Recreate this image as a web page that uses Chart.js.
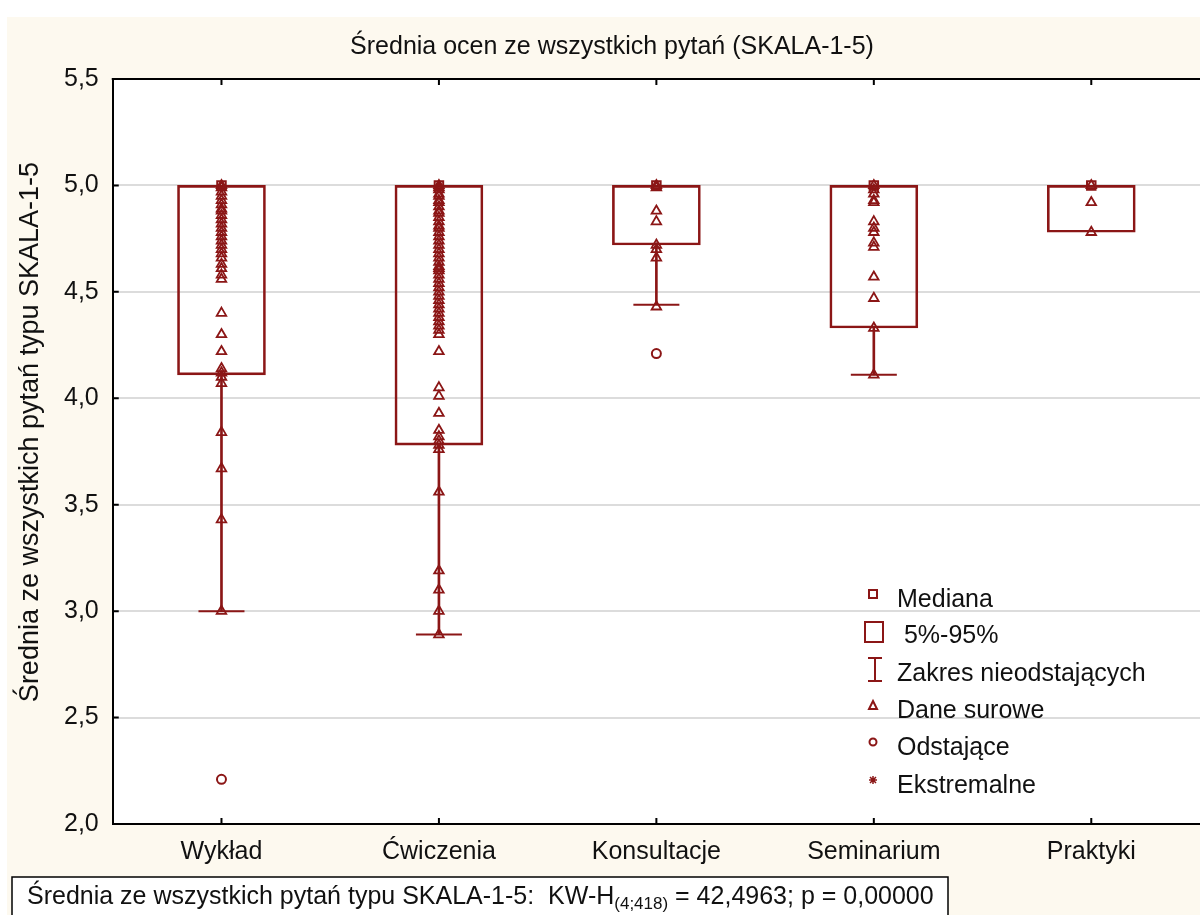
<!DOCTYPE html>
<html>
<head>
<meta charset="utf-8">
<script src="https://cdn.jsdelivr.net/npm/chart.js@4.4.1/dist/chart.umd.min.js"></script>
<style>
  body { margin: 0; background: #fff; }
</style>
</head>
<body>
<canvas id="myChart" width="1200" height="915"></canvas>
<script>
// categories on the x axis
var categories = ['Wykład', 'Ćwiczenia', 'Konsultacje', 'Seminarium', 'Praktyki'];
// 5%-95% box (low / high), median
var boxLow = [4.11, 3.78, 4.72, 4.33, 4.78];
var boxHigh = [5.0, 5.0, 5.0, 5.0, 5.0];
var medians = [5.0, 5.0, 5.0, 5.0, 5.0];
// non-outlier range (lower whisker), null = no whisker
var whiskerLow = [3.0, 2.89, 4.44, 4.11, null];
// outliers
var outlierCat = ['Wykład', 'Konsultacje'];
var outlierVal = [2.21, 4.21];
// raw data per category
var rawWyklad = [5.0, 4.99, 4.97, 4.95, 4.93, 4.91, 4.89, 4.88, 4.86, 4.84, 4.82, 4.80, 4.78, 4.76, 4.74, 4.72, 4.70, 4.68, 4.66, 4.63, 4.61, 4.58, 4.56,
  4.40, 4.30, 4.22, 4.14, 4.12, 4.10, 4.07, 3.84, 3.67, 3.43, 3.0];
var rawCwiczenia = [5.0, 4.99, 4.98, 4.96, 4.95, 4.93, 4.92, 4.90, 4.88, 4.87, 4.85, 4.83, 4.81, 4.80, 4.78, 4.76, 4.74, 4.72, 4.70, 4.68,
  4.66, 4.64, 4.62, 4.61, 4.60, 4.58, 4.56, 4.54, 4.52, 4.50, 4.48, 4.46, 4.44, 4.42, 4.40, 4.38, 4.36, 4.34, 4.32, 4.30,
  4.22, 4.05, 4.01, 3.93, 3.85, 3.82, 3.80, 3.78, 3.76, 3.56, 3.19, 3.10, 3.0, 2.89];
var rawKonsultacje = [5.0, 4.99, 4.88, 4.83, 4.72, 4.70, 4.66, 4.43];
var rawSeminarium = [5.0, 4.98, 4.96, 4.93, 4.92, 4.83, 4.80, 4.78, 4.73, 4.71, 4.57, 4.47, 4.33, 4.11];
var rawPraktyki = [5.0, 4.92, 4.78];
// y ticks
var yTicks = [2.0, 2.5, 3.0, 3.5, 4.0, 4.5, 5.0, 5.5];

var red = '#8b1616';
var cream = '#fdf9ef';
var fontFam = '"Liberation Sans", Arial, sans-serif';

var rawPoints = [];
[rawWyklad, rawCwiczenia, rawKonsultacje, rawSeminarium, rawPraktyki].forEach(function(arr, i){
    arr.forEach(function(v){ rawPoints.push({x: categories[i], y: v}); });
});

var bgPlugin = {
    id: 'bgPlugin',
    beforeDraw: function(chart){
        var c = chart.ctx, a = chart.chartArea;
        c.save();
        c.fillStyle = '#fff';
        c.fillRect(0, 0, chart.width, chart.height);
        c.fillStyle = cream;
        c.fillRect(7, 17, chart.width - 7, chart.height - 17);
        c.fillStyle = '#fff';
        c.fillRect(a.left, a.top, a.right - a.left, a.bottom - a.top);
        c.restore();
    },
    afterDraw: function(chart){
        var c = chart.ctx, a = chart.chartArea, xs = chart.scales.x, ys = chart.scales.y;
        c.save();
        // top frame + inner ticks
        c.strokeStyle = '#000';
        c.lineWidth = 2;
        c.beginPath();
        c.moveTo(a.left - 1, a.top); c.lineTo(a.right, a.top);
        categories.forEach(function(cat, i){
            var px = xs.getPixelForValue(i);
            c.moveTo(px, a.top); c.lineTo(px, a.top + 6);
            c.moveTo(px, a.bottom); c.lineTo(px, a.bottom - 6);
        });
        yTicks.forEach(function(v){
            var py = ys.getPixelForValue(v);
            c.moveTo(a.left, py); c.lineTo(a.left + 6, py);
        });
        c.stroke();

        // chart title
        c.fillStyle = '#111';
        c.font = '25px ' + fontFam;
        c.textAlign = 'center';
        c.textBaseline = 'middle';
        c.fillText('Średnia ocen ze wszystkich pytań (SKALA-1-5)', 612, 47);

        // y axis title
        c.save();
        c.translate(31, 432);
        c.rotate(-Math.PI / 2);
        c.font = '27px ' + fontFam;
        c.fillText('Średnia ze wszystkich pytań typu SKALA-1-5', 0, 0);
        c.restore();
        c.textAlign = 'left';

        // legend
        var lx = 873, tx = 897;
        c.strokeStyle = red; c.fillStyle = red; c.lineWidth = 2;
        c.strokeRect(lx - 4, 590, 8, 8);
        c.strokeRect(lx - 8, 622, 18, 20);
        c.beginPath();
        c.moveTo(lx + 2, 658); c.lineTo(lx + 2, 681);
        c.moveTo(lx - 5, 658); c.lineTo(lx + 9, 658);
        c.moveTo(lx - 5, 681); c.lineTo(lx + 9, 681);
        c.stroke();
        c.beginPath();
        c.moveTo(lx, 701); c.lineTo(lx + 4, 709); c.lineTo(lx - 4, 709); c.closePath();
        c.stroke();
        c.beginPath(); c.arc(lx, 742, 3.5, 0, Math.PI * 2); c.stroke();
        c.lineWidth = 1.5;
        c.beginPath();
        c.moveTo(lx - 4, 780); c.lineTo(lx + 4, 780);
        c.moveTo(lx, 776); c.lineTo(lx, 784);
        c.moveTo(lx - 3, 777); c.lineTo(lx + 3, 783);
        c.moveTo(lx + 3, 777); c.lineTo(lx - 3, 783);
        c.stroke();

        c.fillStyle = '#111';
        c.font = '25px ' + fontFam;
        c.textBaseline = 'middle';
        c.fillText('Mediana', tx, 600);
        c.fillText(' 5%-95%', tx, 636);
        c.fillText('Zakres nieodstających', tx, 674);
        c.fillText('Dane surowe', tx, 711);
        c.fillText('Odstające', tx, 748);
        c.fillText('Ekstremalne', tx, 786);

        // footer box with KW-H test
        c.fillStyle = '#fff';
        c.fillRect(12, 877, 936, 50);
        c.strokeStyle = '#000'; c.lineWidth = 1.5;
        c.strokeRect(12, 877, 936, 50);
        c.fillStyle = '#111';
        c.textBaseline = 'alphabetic';
        c.font = '25px ' + fontFam;
        var t1 = 'Średnia ze wszystkich pytań typu SKALA-1-5:  KW-H';
        var x0 = 27, by = 904;
        c.fillText(t1, x0, by);
        x0 += c.measureText(t1).width;
        c.font = '17px ' + fontFam;
        c.fillText('(4;418)', x0, by + 5);
        x0 += c.measureText('(4;418)').width;
        c.font = '25px ' + fontFam;
        c.fillText(' = 42,4963; p = 0,00000', x0, by);
        c.restore();
    }
};

var ctx = document.getElementById('myChart').getContext('2d');
var chart = new Chart(ctx, {
    type: 'bar',
    data: {
        labels: categories,
        datasets: [
            {
                // 5%-95% boxes
                type: 'bar',
                data: boxLow.map(function(v, i){ return [v, boxHigh[i]]; }),
                backgroundColor: 'rgba(0,0,0,0)',
                borderColor: red,
                borderWidth: 2,
                borderSkipped: false,
                barThickness: 88,
                grouped: false,
                order: 5
            },
            {
                // whisker stems
                type: 'bar',
                data: whiskerLow.map(function(v, i){ return v === null ? null : [v, boxLow[i]]; }),
                backgroundColor: red,
                borderWidth: 0,
                barThickness: 2,
                grouped: false,
                order: 4
            },
            {
                // whisker caps
                type: 'line',
                showLine: false,
                data: whiskerLow.map(function(v, i){ return {x: categories[i], y: v}; }),
                pointStyle: 'line',
                pointRadius: 23,
                borderColor: red,
                borderWidth: 2,
                order: 3
            },
            {
                // raw data
                type: 'line',
                showLine: false,
                data: rawPoints,
                pointStyle: 'triangle',
                pointRadius: 5.5,
                pointBorderWidth: 1.8,
                pointBorderColor: red,
                pointBackgroundColor: 'rgba(255,255,255,0)',
                order: 2
            },
            {
                // medians
                type: 'line',
                showLine: false,
                data: medians.map(function(v, i){ return {x: categories[i], y: v}; }),
                pointStyle: 'rect',
                pointRadius: 6,
                pointBorderWidth: 2,
                pointBorderColor: red,
                pointBackgroundColor: 'rgba(255,255,255,0)',
                order: 1
            },
            {
                // outliers
                type: 'line',
                showLine: false,
                data: outlierVal.map(function(v, i){ return {x: outlierCat[i], y: v}; }),
                pointStyle: 'circle',
                pointRadius: 4.5,
                pointBorderWidth: 2,
                pointBorderColor: red,
                pointBackgroundColor: '#fff',
                order: 0
            }
        ]
    },
    options: {
        responsive: false,
        animation: false,
        devicePixelRatio: 1,
        layout: { autoPadding: false, padding: { left: 50, right: -2, top: 79, bottom: 43 } },
        plugins: {
            legend: { display: false },
            tooltip: { enabled: false },
            title: { display: false }
        },
        scales: {
            x: {
                type: 'category',
                offset: true,
                grid: { display: false },
                border: { display: true, color: '#000', width: 2 },
                ticks: {
                    color: '#111',
                    padding: 5,
                    font: { family: fontFam, size: 25 }
                }
            },
            y: {
                min: 2,
                max: 5.5,
                afterBuildTicks: function(axis){
                    axis.ticks = yTicks.map(function(v){ return {value: v}; });
                },
                grid: { color: '#dcdcdc', lineWidth: 2, drawTicks: false },
                border: { display: true, color: '#000', width: 2 },
                ticks: {
                    color: '#111',
                    padding: 14,
                    font: { family: fontFam, size: 25 },
                    callback: function(v){ return v.toFixed(1).replace('.', ','); }
                }
            }
        }
    },
    plugins: [bgPlugin]
});
</script>
</body>
</html>
